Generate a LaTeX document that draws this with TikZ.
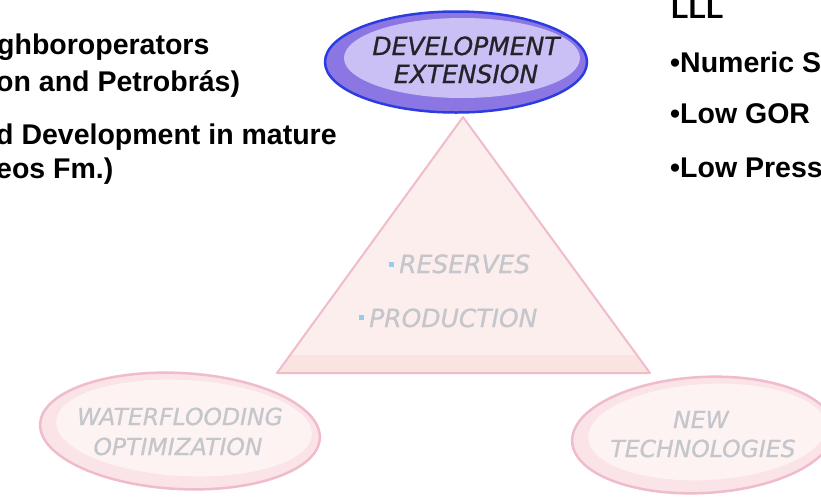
\documentclass[tikz,border=0pt]{standalone}
\usepackage{fontspec}
\setmainfont{Liberation Sans}
\newfontfamily\ellfont[FakeBold=0.8]{DejaVu Sans}
\usetikzlibrary{shapes.geometric,calc}
\definecolor{bluedark}{RGB}{45,60,225}
\definecolor{bluering}{RGB}{140,118,228}
\definecolor{bluein}{RGB}{202,192,246}
\definecolor{pinkedge}{RGB}{240,188,203}
\definecolor{pinkring}{RGB}{250,228,232}
\definecolor{pinkin}{RGB}{253,243,242}
\definecolor{trifill}{RGB}{252,238,236}
\definecolor{triband}{RGB}{249,228,226}
\definecolor{fadetext}{RGB}{196,198,203}
\definecolor{darktext}{RGB}{35,35,40}
\definecolor{bulletblue}{RGB}{150,205,235}
\tikzset{
  bodytext/.style={font=\fontsize{28.5}{32}\selectfont\bfseries, text=black, inner sep=0pt, anchor=base west},
  elltext/.style={font=\ellfont\itshape\fontsize{25}{28}\selectfont, inner sep=0pt, anchor=base},
  fadeelltext/.style={elltext, font=\ellfont\itshape\fontsize{23.5}{28}\selectfont, text=fadetext},
  outerell/.style={ellipse, draw, line width=2.5pt, inner sep=0pt},
  innerell/.style={ellipse, inner sep=0pt},
  tribullet/.style={fill=bulletblue, minimum size=5pt, inner sep=0pt}
}
\begin{document}
\begin{tikzpicture}[x=1pt,y=-1pt]
\useasboundingbox (0,0) rectangle (821,496);
% left text
\node[bodytext] (l1) at (-3,54) {ghboroperators};
\node[bodytext] (l2) at (-4,91) {on and Petrobrás)};
\node[bodytext] (l3) at (-4,144) {d Development in mature};
\node[bodytext] (l4) at (-4,178) {eos Fm.)};
% right text
\node[bodytext] (r0) at (671,18) {LLL};
\node[bodytext] (r1) at (670,72) {•Numeric S};
\node[bodytext] (r2) at (670,123) {•Low GOR};
\node[bodytext] (r3) at (670,177) {•Low Press};
% triangle
\coordinate (ta) at (463,117);
\coordinate (tl) at (277,373);
\coordinate (tr) at (650,373);
\fill[trifill] (ta) -- (tl) -- (tr) -- cycle;
\fill[triband] (tl) -- (tr) -- ($(tr)!0.07!(ta)$) -- ($(tl)!0.07!(ta)$) -- cycle;
\draw[pinkedge, line width=2pt, line join=round] (ta) -- (tl) -- (tr) -- cycle;
\node[tribullet] (b1) at (391,264) {};
\node[fadeelltext, anchor=base west, font=\ellfont\itshape\fontsize{25}{28}\selectfont] (res) at (399,273) {RESERVES};
\node[tribullet] (b2) at (361,317) {};
\node[fadeelltext, anchor=base west, font=\ellfont\itshape\fontsize{25}{28}\selectfont] (pro) at (369,327) {PRODUCTION};
% top ellipse
\node[outerell, draw=bluedark, fill=bluering, minimum width=262pt, minimum height=101pt] (dev) at (456,62) {};
\node[innerell, fill=bluein, minimum width=236pt, minimum height=80pt] (devin) at (462,58) {};
\node[elltext, text=darktext] (dv1) at (466,55) {DEVELOPMENT};
\node[elltext, text=darktext] (dv2) at (466,83) {EXTENSION};
% left ellipse
\node[outerell, draw=pinkedge, fill=pinkring, minimum width=280pt, minimum height=116pt, rotate=-3] (wat) at (180,431) {};
\node[innerell, fill=pinkin, minimum width=256pt, minimum height=96pt, rotate=-3] (watin) at (184,428) {};
\node[fadeelltext] (w1) at (180,425) {WATERFLOODING};
\node[fadeelltext] (w2) at (178,455) {OPTIMIZATION};
% right ellipse
\node[outerell, draw=pinkedge, fill=pinkring, minimum width=262pt, minimum height=116pt, rotate=3] (nt) at (703,435) {};
\node[innerell, fill=pinkin, minimum width=238pt, minimum height=96pt, rotate=3] (ntin) at (707,432) {};
\node[fadeelltext] (n1) at (701,428) {NEW};
\node[fadeelltext] (n2) at (703,457) {TECHNOLOGIES};
\end{tikzpicture}
\end{document}
